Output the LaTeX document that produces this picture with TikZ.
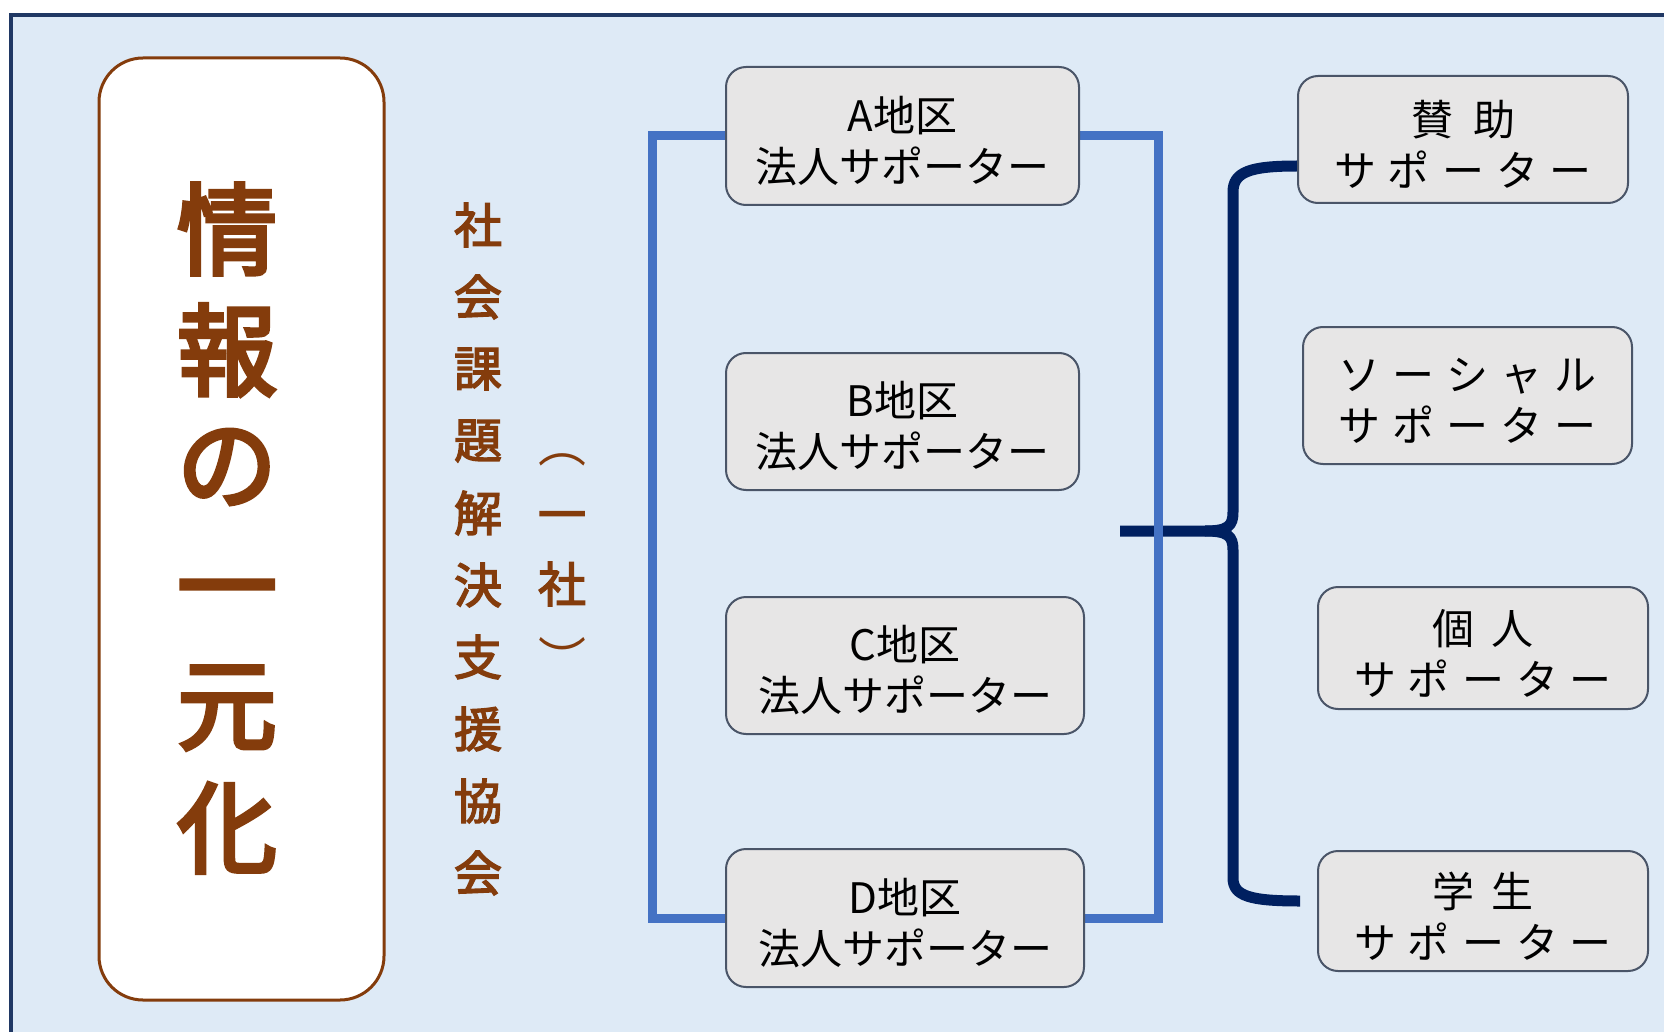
\documentclass[tikz,border=0pt]{standalone}
\usepackage{fontspec}
\setmainfont{Noto Sans CJK JP}
\newfontfamily\jpsemi{Noto Sans CJK JP}[FakeBold=3]
\newfontfamily\jpbig{Noto Sans CJK JP}[FakeBold=4]
\definecolor{bgblue}{HTML}{DEEAF6}
\definecolor{framenavy}{HTML}{203864}
\definecolor{brownc}{HTML}{843C0C}
\definecolor{lineblue}{HTML}{4472C4}
\definecolor{navyc}{HTML}{002060}
\definecolor{boxgray}{HTML}{E7E6E6}
\definecolor{boxedge}{HTML}{4A5568}
\newcommand\lsp{\hspace{6pt}}
\pgfdeclarelayer{framelayer}
\pgfdeclarelayer{linelayer}
\pgfsetlayers{framelayer,linelayer,main}
\begin{document}
\begin{tikzpicture}[x=0.5pt,y=-0.5pt,
  supbox/.style={draw=boxedge, line width=1pt, fill=boxgray, rounded corners=10pt, inner sep=0pt},
  supt/.style={inner sep=0pt, align=center, yshift=-2.5pt, font=\fontsize{21pt}{25.5pt}\selectfont, text=black},
  bigchar/.style={inner sep=0pt, text=brownc, font=\jpbig\fontsize{50pt}{60pt}\selectfont},
  colchar/.style={inner sep=0pt, text=brownc, font=\jpsemi\fontsize{24pt}{30pt}\selectfont},
  parchar/.style={inner sep=0pt, text=brownc, font=\fontsize{24pt}{30pt}\selectfont},
  blueln/.style={draw=lineblue, line width=4.5pt},
  navyln/.style={draw=navyc, line width=5.5pt, line cap=butt, line join=round}]
\useasboundingbox (0,0) rectangle (1664,1032);
\begin{pgfonlayer}{framelayer}
\fill[white] (0,0) rectangle (1664,1032);
\begin{scope}
\clip (0,0) rectangle (1664,1032);
\draw[draw=framenavy, line width=1.8pt, fill=bgblue] (11,15) rectangle (1720,1090);
\end{scope}
\end{pgfonlayer}

% main brown box
\node[draw=brownc, line width=1.5pt, fill=white, rounded corners=22pt,
  minimum width=142.5pt, minimum height=471pt, inner sep=0pt] (main) at (241.5,529) {};
\node[bigchar] (m1) at (227,229) {情};
\node[bigchar] (m2) at (227,350) {報};
\node[bigchar] (m3) at (227,467) {の};
\node[bigchar] (m4) at (227,602) {一};
\node[bigchar] (m5) at (227,708) {元};
\node[bigchar] (m6) at (227,828) {化};

% vertical organisation name
\foreach \c [count=\i from 0] in {社,会,課,題,解,決,支,援,協,会}
  \node[colchar] (s\i) at (478,{225+72*\i}) {\c};
\node[parchar] (p1) at (562,460) {︵};
\node[colchar] (p2) at (562,522) {一};
\node[colchar] (p3) at (562,584) {社};
\node[parchar] (p4) at (562,657) {︶};

% nodes
\node[supbox, minimum width=176.5pt, minimum height=69pt,
  label={[supt, name=At]center:A地区\\法人サポーター}] (A) at (902.5,136) {};
\node[supbox, minimum width=176.5pt, minimum height=68.5pt,
  label={[supt, name=Bt]center:B地区\\法人サポーター}] (B) at (902.5,421.5) {};
\node[supbox, minimum width=179pt, minimum height=68.5pt,
  label={[supt, name=Ct]center:C地区\\法人サポーター}] (C) at (905,665.5) {};
\node[supbox, minimum width=179pt, minimum height=69pt,
  label={[supt, name=Dt]center:D地区\\法人サポーター}] (D) at (905,918) {};

\node[supbox, minimum width=165pt, minimum height=63.5pt,
  label={[supt, name=R1t]center:賛\hspace{10pt}助\\サ\lsp ポ\lsp ー\lsp タ\lsp ー}] (R1) at (1463,139.5) {};
\node[supbox, minimum width=164.5pt, minimum height=68.5pt,
  label={[supt, name=R2t]center:ソ\lsp ー\lsp シ\lsp ャ\lsp ル\\サ\lsp ポ\lsp ー\lsp タ\lsp ー}] (R2) at (1467.5,395.5) {};
\node[supbox, minimum width=165pt, minimum height=61pt,
  label={[supt, name=R3t]center:個\hspace{9pt}人\\サ\lsp ポ\lsp ー\lsp タ\lsp ー}] (R3) at (1483,648) {};
\node[supbox, minimum width=165pt, minimum height=60pt,
  label={[supt, name=R4t]center:学\hspace{9pt}生\\サ\lsp ポ\lsp ー\lsp タ\lsp ー}] (R4) at (1483,911) {};

\begin{pgfonlayer}{linelayer}
% brace (navy)
\coordinate (bmid) at (1120,531);
\coordinate (btop) at (R1.west |- 0,166);
\coordinate (bbot) at (1300,901);
\draw[navyln] (bmid) -- (1205,531) .. controls (1228,531) and (1233,526) .. (1233,512)
  -- (1233,192) .. controls (1233,172) and (1250,166) .. (btop);
\draw[navyln] (1205,531) .. controls (1228,531) and (1233,536) .. (1233,550)
  -- (1233,878) .. controls (1233,896) and (1250,901) .. (bbot);
% blue frame joining A..D
\draw[blueln] (A.west) -- ++(-73,0) |- (D.west);
\draw[blueln] (A.east) -- ++(78,0) |- (D.east);
\end{pgfonlayer}
\end{tikzpicture}
\end{document}
